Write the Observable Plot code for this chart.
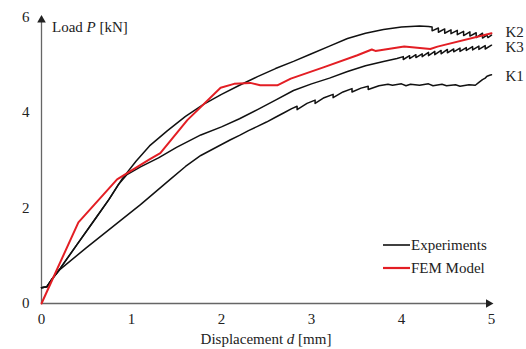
<!DOCTYPE html>
<html>
<head>
<meta charset="utf-8">
<script src="https://cdn.jsdelivr.net/npm/d3@7"></script>
<script src="https://cdn.jsdelivr.net/npm/@observablehq/plot@0.6"></script>
<style>
  html, body { margin: 0; padding: 0; background: #fff; }
  #chart { width: 526px; height: 349px; }
</style>
</head>
<body>
<div id="chart"></div>
<script>
// Experimental curves [displacement d (mm), load P (kN)]
const k1 = [[0,0.33],[0.06,0.35],[0.12,0.52],[0.21,0.72],[0.5,1.17],[0.88,1.74],[1.1,2.07],[1.43,2.6],[1.6,2.87],[1.77,3.1],[2.0,3.33],
  [2.1,3.43],[2.2,3.52],[2.3,3.62],[2.4,3.71],[2.5,3.8],[2.6,3.9],[2.7,4.0],[2.78,4.08],[2.84,4.13],[2.84,4.06],[2.95,4.19],
  [3.04,4.26],[3.04,4.19],[3.14,4.31],[3.24,4.38],[3.24,4.31],[3.35,4.43],[3.45,4.5],[3.45,4.43],[3.55,4.51],[3.63,4.55],[3.63,4.48],
  [3.75,4.56],[3.85,4.59],[3.9,4.57],[4.0,4.6],[4.05,4.56],[4.1,4.59],[4.2,4.57],[4.3,4.6],[4.35,4.56],[4.45,4.59],[4.5,4.56],
  [4.6,4.58],[4.65,4.55],[4.75,4.58],[4.82,4.57],[4.86,4.63],[4.9,4.69],[4.93,4.72],[4.95,4.76],[4.98,4.78],[5.0,4.79]];
const k2 = [[0,0.33],[0.06,0.35],[0.12,0.52],[0.21,0.74],[0.4,1.25],[0.6,1.78],[0.75,2.18],[0.9,2.62],[1.05,2.98],[1.2,3.3],
  [1.4,3.62],[1.6,3.92],[1.8,4.17],[2.0,4.38],[2.2,4.57],[2.4,4.75],[2.6,4.92],[2.8,5.07],[3.0,5.23],[3.2,5.39],[3.4,5.55],
  [3.6,5.66],[3.8,5.74],[4.0,5.79],[4.2,5.81],[4.3,5.8],[4.34,5.79],[4.34,5.71],[4.41,5.77],[4.41,5.68],[4.48,5.75],[4.48,5.66],
  [4.55,5.73],[4.55,5.65],[4.62,5.72],[4.62,5.63],[4.69,5.7],[4.69,5.61],[4.76,5.69],[4.76,5.6],[4.83,5.67],[4.83,5.57],
  [4.9,5.66],[4.9,5.56],[4.95,5.62],[4.96,5.57],[5.0,5.62]];
const k3 = [[0,0.33],[0.06,0.35],[0.12,0.52],[0.21,0.74],[0.4,1.25],[0.6,1.78],[0.75,2.18],[0.85,2.48],[0.95,2.7],[1.1,2.86],
  [1.3,3.05],[1.5,3.27],[1.77,3.53],[2.0,3.7],[2.2,3.87],[2.4,4.06],[2.6,4.26],[2.8,4.46],[3.0,4.6],[3.2,4.72],[3.4,4.86],
  [3.6,4.98],[3.8,5.07],[3.95,5.13],[4.02,5.17],[4.02,5.11],[4.09,5.19],[4.09,5.13],[4.16,5.21],[4.16,5.15],[4.23,5.23],[4.23,5.17],
  [4.3,5.26],[4.3,5.19],[4.37,5.28],[4.37,5.21],[4.44,5.3],[4.44,5.23],[4.51,5.32],[4.51,5.25],[4.58,5.33],[4.58,5.27],
  [4.65,5.35],[4.65,5.28],[4.72,5.36],[4.72,5.3],[4.79,5.38],[4.79,5.31],[4.86,5.39],[4.86,5.32],[4.93,5.4],[4.93,5.33],[5.0,5.41]];
// FEM model
const fem = [[0,0],[0.41,1.7],[0.84,2.6],[1.2,3.02],[1.32,3.15],[1.62,3.84],[1.99,4.52],[2.14,4.6],[2.32,4.62],[2.43,4.57],
  [2.62,4.57],[2.77,4.71],[3.14,4.95],[3.51,5.2],[3.67,5.32],[3.71,5.29],[4.03,5.38],[4.32,5.33],[4.4,5.38],[5.0,5.66]];

const seriesNames = ["K1", "K2", "K3"];
const seriesEnds = [4.77, 5.68, 5.36]; // label positions (kN)
const xTicks = [0, 1, 2, 3, 4, 5];
const yTicks = [0, 2, 4, 6];
const legendLabels = ["Experiments", "FEM Model"];

const expRows = [k1, k2, k3].flatMap((arr, i) => arr.map(([d, p]) => ({d, p, s: seriesNames[i]})));
const femRows = fem.map(([d, p]) => ({d, p}));
const labelRows = seriesNames.map((s, i) => ({s, d: 5, p: seriesEnds[i]}));

const font = "'Liberation Serif', 'Times New Roman', serif";

const chart = Plot.plot({
  width: 526,
  height: 349,
  marginLeft: 41,
  marginRight: 35,
  marginTop: 16.5,
  marginBottom: 46,
  style: {fontFamily: font, fontSize: "15px", color: "#222", background: "#fff", overflow: "visible"},
  x: {domain: [0, 5]},
  y: {domain: [0, 6]},
  marks: [
    Plot.axisX({ticks: xTicks, tickFormat: d => String(d), tickSize: 0, tickPadding: 10, label: null, fontSize: 15}),
    Plot.axisY({ticks: yTicks, tickFormat: d => String(d), tickSize: 0, tickPadding: 12, label: null, fontSize: 15}),
    Plot.ruleY([0], {stroke: "#666", strokeWidth: 1.3}),
    Plot.ruleX([0], {stroke: "#666", strokeWidth: 1.3}),
    Plot.dot([{d: 0, p: 6}], {x: "d", y: "p", symbol: "triangle", r: 3.2, fill: "#222", stroke: null, dy: 3}),
    Plot.dot([{d: 5, p: 0}], {x: "d", y: "p", symbol: "triangle", r: 3.2, fill: "#222", stroke: null, rotate: 90, dx: -3}),
    Plot.line(expRows, {x: "d", y: "p", z: "s", stroke: "#111", strokeWidth: 1.5, curve: "linear"}),
    Plot.line(femRows, {x: "d", y: "p", stroke: "#e31e24", strokeWidth: 2}),
    Plot.text(labelRows, {x: "d", y: "p", text: "s", dx: 14, textAnchor: "start", fill: "#222", fontSize: 15})
  ]
});

const svg = d3.select(chart);
svg.selectAll("g[aria-label='x-axis tick label'] text, g[aria-label='y-axis tick label'] text").style("font-size", "15px");
// axis titles with italic variable symbols
const yt = svg.append("text").attr("x", 52).attr("y", 32).attr("fill", "#222").attr("text-anchor", "start")
  .style("font-family", font).style("font-size", "15px");
yt.append("tspan").text("Load ");
yt.append("tspan").attr("font-style", "italic").text("P");
yt.append("tspan").text(" [kN]");

const xt = svg.append("text").attr("x", 266).attr("y", 344).attr("text-anchor", "middle").attr("fill", "#222")
  .style("font-family", font).style("font-size", "15px");
xt.append("tspan").text("Displacement ");
xt.append("tspan").attr("font-style", "italic").text("d");
xt.append("tspan").text(" [mm]");

// legend
const legendColors = ["#111", "#e31e24"];
legendLabels.forEach((lab, i) => {
  const y = 245 + i * 23;
  svg.append("line").attr("x1", 383).attr("x2", 410).attr("y1", y).attr("y2", y)
    .attr("stroke", legendColors[i]).attr("stroke-width", i ? 2.2 : 1.6);
  svg.append("text").attr("x", 411).attr("y", y + 5).attr("fill", "#222").attr("text-anchor", "start")
    .style("font-family", font).style("font-size", "15px").text(lab);
});

document.getElementById("chart").appendChild(chart);
</script>
</body>
</html>
